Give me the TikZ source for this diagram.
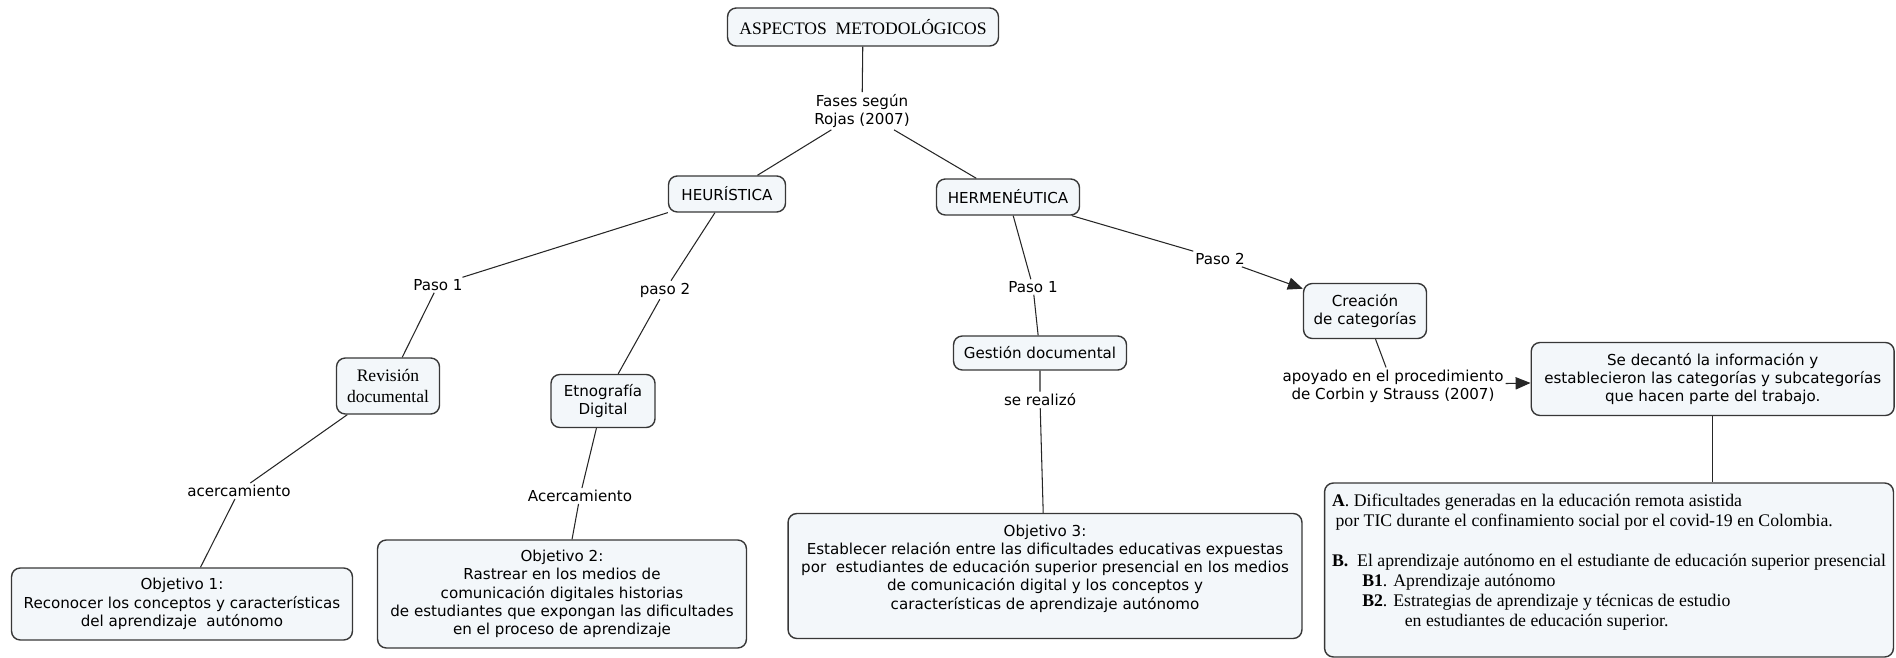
\documentclass[tikz,border=0pt]{standalone}
\usepackage{fontspec}
\usepackage{tikz}
\usetikzlibrary{arrows.meta}
\newfontfamily\verdfont{DejaVu Sans}
\newfontfamily\timesfont{Liberation Serif}
\definecolor{conceptfill}{RGB}{243,247,250}
\definecolor{conceptline}{RGB}{55,55,55}
\def\mapfont{\verdfont\fontsize{8.6}{10.4}\selectfont}
\def\serfont{\timesfont\fontsize{10}{11.8}\selectfont}
\def\boxfont{\timesfont\fontsize{10.1}{11.4}\selectfont}

\tikzset{
	concept/.style={draw=conceptline, fill=conceptfill, rounded corners=5pt, line width=0.8pt, align=center, font=\mapfont, inner sep=2pt},
	linkword/.style={align=center, font=\mapfont, inner sep=1pt},
	link/.style={draw=black!85, line width=0.6pt},
	linkarrow/.style={link, -{Triangle[length=8.5pt,width=7pt]}}
}

\begin{document}
\begin{tikzpicture}[x=0.02cm, y=-0.02cm]
		%%%%% START %%%%%
		
		\useasboundingbox (0, 0) rectangle (1896, 658);
		
		\node[concept, font=\serfont, minimum width=5.42cm, minimum height=0.76cm] (aspectos) at (863, 27) {ASPECTOS\ \ METODOLÓGICOS};
		\node[linkword] (fases) at (862, 111) {Fases según\\Rojas (2007)};
		
		\node[concept, minimum width=2.34cm, minimum height=0.72cm] (heuristica) at (727, 194) {HEURÍSTICA};
		\node[concept, minimum width=2.86cm, minimum height=0.72cm] (hermeneutica) at (1008, 197) {HERMENÉUTICA};
		
		% heuristica
		\node[linkword] (pasoA) at (438, 285) {Paso 1};
		\node[linkword] (pasoB) at (665, 290) {paso 2};
		\node[concept, font=\serfont, minimum width=2.06cm, minimum height=1.12cm] (revision) at (388, 386) {Revisión\\documental};
		\node[concept, minimum width=2.08cm, minimum height=1.06cm] (etnografia) at (603, 401) {Etnografía\\Digital};
		\node[linkword] (acerA) at (239, 491) {acercamiento};
		\node[linkword] (acerB) at (580, 496) {Acercamiento};
		\node[concept, minimum width=6.82cm, minimum height=1.44cm] (obja) at (182, 604) {Objetivo 1:\\Reconocer los conceptos y características\\del aprendizaje\ \ autónomo};
		\node[concept, minimum width=7.38cm, minimum height=2.16cm] (objb) at (562, 594) {Objetivo 2:\\Rastrear en los medios de\\comunicación digitales historias\\de estudiantes que expongan las dificultades\\en el proceso de aprendizaje};
		
		% hermeneutica
		\node[linkword] (pasoC) at (1033, 287) {Paso 1};
		\node[concept, minimum width=3.46cm, minimum height=0.68cm] (gestion) at (1040, 353) {Gestión documental};
		\node[linkword] (realizo) at (1040, 400) {se realizó};
		\node[concept, minimum width=10.28cm, minimum height=2.5cm] (objc) at (1045, 576) {Objetivo 3:\\Establecer relación entre las dificultades educativas expuestas\\por\ \ estudiantes de educación superior presencial en los medios\\de comunicación digital y los conceptos y\\características de aprendizaje autónomo\\\mbox{}};
		
		\node[linkword] (pasoD) at (1220, 259) {Paso 2};
		\node[concept, minimum width=2.46cm, minimum height=1.1cm] (creacion) at (1365, 311) {Creación\\de categorías};
		\node[linkword] (apoyado) at (1393, 386) {apoyado en el procedimiento\\de Corbin y Strauss (2007)};
		\node[concept, minimum width=7.26cm, minimum height=1.46cm] (decanto) at (1712.7, 379) {Se decantó la información y\\establecieron las categorías y subcategorías\\que hacen parte del trabajo.};
		\node[concept, font=\boxfont, align=left, minimum width=11.38cm, minimum height=3.48cm] (categorias) at (1609, 570) {\textbf{A}. Dificultades generadas en la educación remota asistida\\
			\hspace*{2pt}por TIC durante el confinamiento social por el covid-19 en Colombia.\\
			\mbox{}\\
			\textbf{B.}\ \ El aprendizaje autónomo en el estudiante de educación superior presencial\\
			\hspace*{1.7em}\textbf{B1}. Aprendizaje autónomo\\
			\hspace*{1.7em}\textbf{B2}. Estrategias de aprendizaje y técnicas de estudio\\
			\hspace*{4.1em}en estudiantes de educación superior.\\
			\mbox{}};
		
		% links
		\draw[link] (aspectos) -- (fases);
		\draw[link] (fases) -- (heuristica);
		\draw[link] (fases) -- (hermeneutica);
		
		\draw[link] (heuristica) -- (pasoA) -- (revision);
		\draw[link] (heuristica) -- (pasoB) -- (etnografia);
		\draw[link] (revision) -- (acerA) -- (obja);
		\draw[link] (etnografia) -- (acerB) -- (objb);
		
		\draw[link] (hermeneutica) -- (pasoC) -- (gestion);
		\draw[link] (gestion) -- (realizo) -- (objc);
		\draw[link] (hermeneutica) -- (pasoD);
		\draw[linkarrow] (pasoD) -- (creacion);
		\draw[link] (creacion) -- (apoyado);
		\draw[linkarrow] (apoyado) -- (decanto);
		\draw[link] (decanto) -- (decanto |- categorias.north);
		
		%%%%% END %%%%%
\end{tikzpicture}
\end{document}
